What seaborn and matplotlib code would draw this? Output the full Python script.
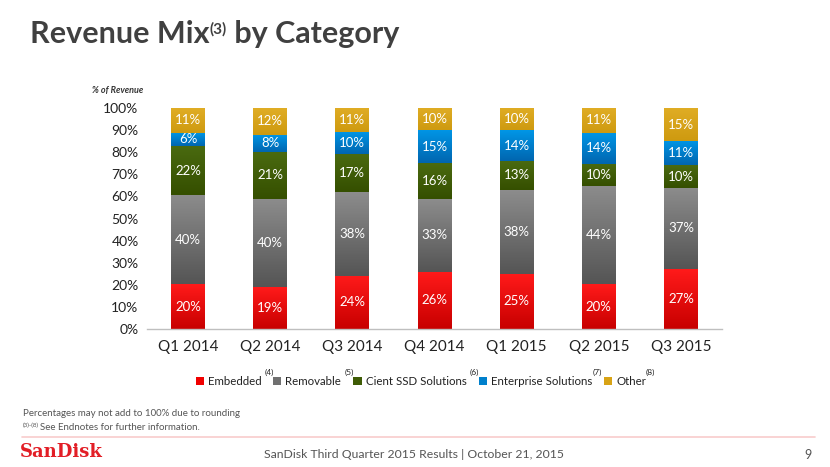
import numpy as np
import pandas as pd
import matplotlib
matplotlib.use("Agg")
import matplotlib.pyplot as plt
import seaborn as sns
from matplotlib.colors import LinearSegmentedColormap
from matplotlib.patches import Patch

quarters = ["Q1 2014", "Q2 2014", "Q3 2014", "Q4 2014", "Q1 2015", "Q2 2015", "Q3 2015"]
categories = ["Embedded", "Removable", "Cient SSD Solutions", "Enterprise Solutions", "Other"]
embedded = [20, 19, 24, 26, 25, 20, 27]
removable = [40, 40, 38, 33, 38, 44, 37]
client_ssd = [22, 21, 17, 16, 13, 10, 10]
enterprise = [6, 8, 10, 15, 14, 14, 11]
other = [11, 12, 11, 10, 10, 11, 15]
footnotes = ["(4)", "(5)", "(6)", "(7)", "(8)"]
yticks = [0, 10, 20, 30, 40, 50, 60, 70, 80, 90, 100]

series = [embedded, removable, client_ssd, enterprise, other]
base_colors = ["#F00000", "#707070", "#3F5C06", "#0080CC", "#D8A316"]
top_colors = ["#FF1A1A", "#8C8C8C", "#4A6A10", "#0096E6", "#E0AD25"]
bot_colors = ["#C80000", "#555555", "#354F00", "#0066B0", "#CE9A10"]

sns.set_theme(style="white")
plt.rcParams['font.family'] = ['Lato', 'DejaVu Sans']

fig = plt.figure(figsize=(8.3, 4.67), dpi=100)
ax = fig.add_axes([0.177, 0.2955, 0.693, 0.4732])

vals = np.array(series, dtype=float)
totals = vals.sum(axis=0)
frac = vals / totals
bottoms = np.zeros(len(quarters))

seg_info = []
for i, cat in enumerate(categories):
    df = pd.DataFrame({"quarter": quarters, "value": frac[i]})
    sns.barplot(data=df, x="quarter", y="value", color=base_colors[i],
                bottom=bottoms.copy(), width=0.41, ax=ax, saturation=1,
                edgecolor="none", linewidth=0, label=cat)
    for j in range(len(quarters)):
        seg_info.append((i, j, bottoms[j], frac[i][j], series[i][j]))
    bottoms = bottoms + frac[i]

patches = list(ax.patches)
grad = np.linspace(1, 0, 64).reshape(-1, 1)
for p, (i, j, b, h, v) in zip(patches, seg_info):
    x0 = p.get_x(); w = p.get_width()
    cmap = LinearSegmentedColormap.from_list("g", [bot_colors[i], top_colors[i]])
    im = ax.imshow(grad, cmap=cmap, extent=[x0, x0 + w, b, b + h], aspect="auto",
                   zorder=p.get_zorder() + 0.1, vmin=0, vmax=1)
    im.set_clip_path(p)
    ax.text(x0 + w / 2, b + h / 2, f"{v}%", ha="center", va="center",
            color="white", fontsize=9.5, zorder=5)

ax.set_xlim(-0.5, 6.5)
ax.set_ylim(0, 1)
ax.set_yticks([t / 100 for t in yticks])
ax.set_yticklabels([f"{t}%" for t in yticks], fontsize=10, color="#222222")
ax.set_xticks(range(len(quarters)))
ax.set_xticklabels(quarters, fontsize=11, color="#222222")
ax.set_xlabel(""); ax.set_ylabel("")
ax.tick_params(axis="y", length=0, pad=6)
ax.tick_params(axis="x", length=0, pad=8)
for s in ["top", "right", "left"]:
    ax.spines[s].set_visible(False)
ax.spines["bottom"].set_color("#BFBFBF")
ax.spines["bottom"].set_linewidth(1)
leg = ax.get_legend()
if leg is not None:
    leg.remove()

renderer = fig.canvas.get_renderer()

handles = [Patch(facecolor=c, edgecolor="none") for c in base_colors]
flegend = fig.legend(handles, categories, loc="center", bbox_to_anchor=(0.507, 0.183), ncol=5,
                     frameon=False, fontsize=8.3, handlelength=0.7, handleheight=0.7,
                     handletextpad=0.35, columnspacing=1.05, labelcolor="#222222")
fig.canvas.draw()
sup_offsets = [8, 8, 8, 5, 4]
for txt, fn, off in zip(flegend.get_texts(), footnotes, sup_offsets):
    bb = txt.get_window_extent(renderer)
    fig.text((bb.x1 + off) / 830, 1 - 372 / 467, fn, fontsize=6, color="#222222",
             ha="center", va="center")

def chain(x_px, y_px, parts):
    x = x_px
    for txt, size, dy in parts:
        t = fig.text(x / 830, 1 - (y_px + dy) / 467, txt, fontsize=size, fontweight="bold",
                     color="#404040", va="baseline", ha="left")
        bb = t.get_window_extent(renderer)
        x = x + bb.width
chain(30, 43, [("Revenue Mix", 22, 0), ("(3)", 11, -9), (" by Category", 22, 0)])

fig.text(143 / 830, 1 - 90 / 467, "% of Revenue", fontsize=6.5, fontstyle="italic",
         fontweight="bold", color="#333333", ha="right", va="center")

fig.text(23 / 830, 1 - 413 / 467, "Percentages may not add to 100% due to rounding",
         fontsize=7, color="#555555", ha="left", va="center")
t38 = fig.text(23 / 830, 1 - 425 / 467, "(3)-(8)", fontsize=4.5, color="#555555", ha="left", va="center")
w38 = t38.get_window_extent(renderer).width
fig.text((23 + w38 + 1) / 830, 1 - 427 / 467, "See Endnotes for further information.",
         fontsize=7, color="#555555", ha="left", va="center")

fig.add_artist(plt.Line2D([22 / 830, 815 / 830], [1 - 437 / 467, 1 - 437 / 467],
                          color="#F8CCCC", linewidth=1.2))
fig.text(20 / 830, 1 - 452 / 467, "SanDisk", fontsize=13, fontweight="bold",
         family=["DejaVu Serif"], color="#E21E26", ha="left", va="center")
fig.text(414 / 830, 1 - 455 / 467, "SanDisk Third Quarter 2015 Results | October 21, 2015",
         fontsize=8.8, color="#555555", ha="center", va="center")
fig.text(808 / 830, 1 - 455 / 467, "9", fontsize=9, color="#555555", ha="center", va="center")

fig.savefig("out.png", dpi=100, facecolor="white")
